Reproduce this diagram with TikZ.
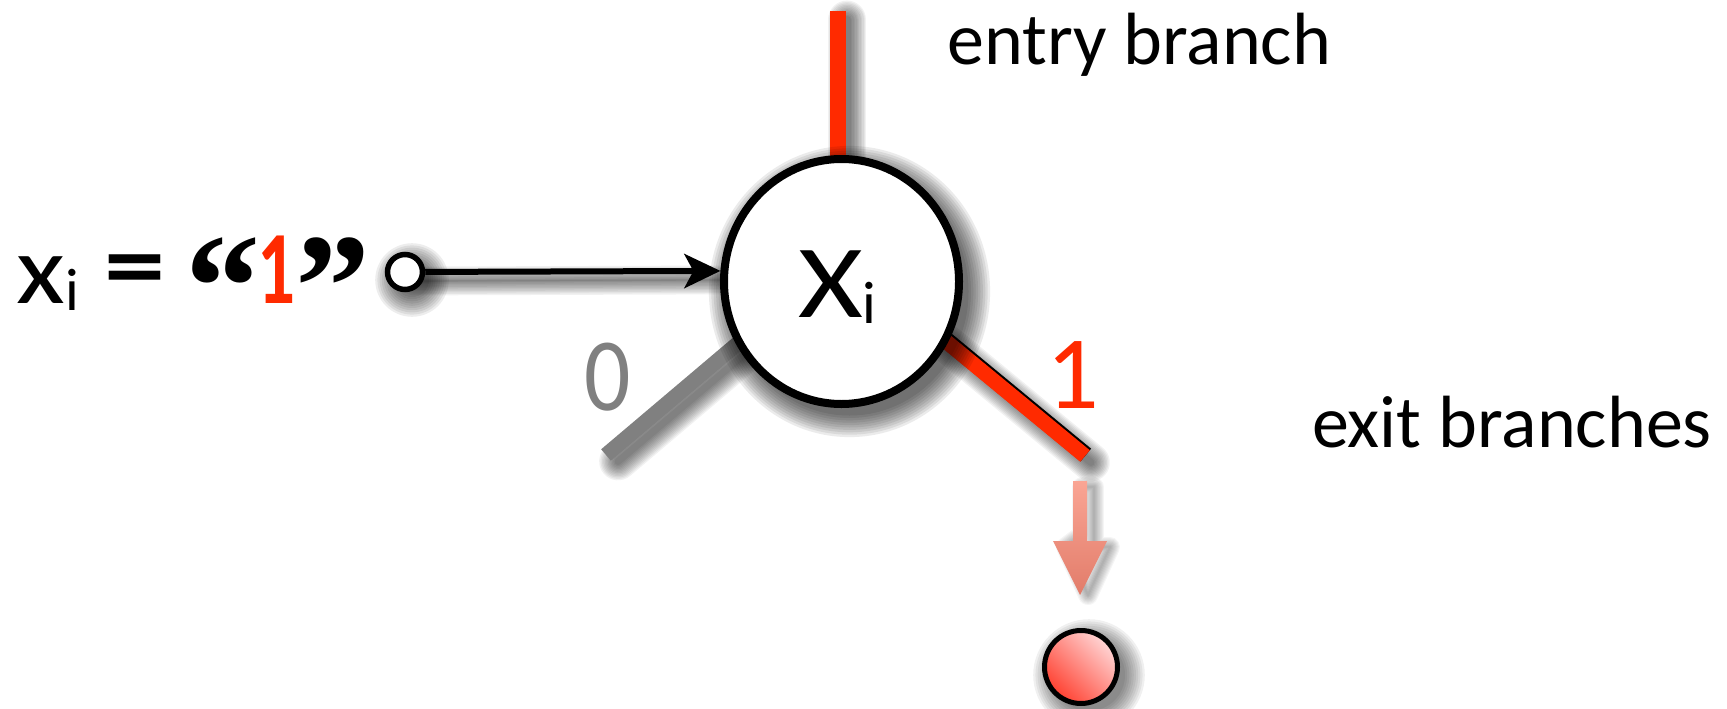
\documentclass[tikz,border=0pt]{standalone}
\usepackage{fontspec}
\setmainfont{Carlito}
\newfontfamily\quotefont{Liberation Serif}
\usetikzlibrary{arrows.meta,shapes.geometric,calc}
\definecolor{brred}{RGB}{255,42,0}
\definecolor{brgray}{RGB}{128,128,128}
\definecolor{salmonA}{RGB}{250,165,148}
\definecolor{salmonB}{RGB}{226,124,106}
\definecolor{ballA}{RGB}{255,214,214}
\definecolor{ballB}{RGB}{255,64,48}
\pgfdeclarelayer{lshadow}
\pgfdeclarelayer{lines}
\pgfdeclarelayer{cshadow}
\pgfsetlayers{lshadow,lines,cshadow,main}
\newcommand\fsz[1]{\fontsize{#1pt}{#1pt}\selectfont}
\newcommand\lineshadow[4]{%
  \foreach \k in {0,...,11}{%
    \pgfmathsetmacro\shw{#1-8+2.8*\k}%
    \draw[black, opacity=0.055, line cap=round, line width=\shw pt, #4] ($#2+(9,9)$) -- ($#3+(9,9)$);
  }}
\begin{document}
\begin{tikzpicture}[x=1pt,y=-1pt,
  lbl/.style={inner sep=0pt, anchor=base west},
  mainnode/.style={ellipse, draw, line width=8pt, fill=white, minimum width=235pt, minimum height=245pt, inner sep=0pt},
  srcnode/.style={circle, draw, line width=5.5pt, fill=white, minimum size=35pt, inner sep=0pt},
  ballnode/.style={circle, draw, line width=5pt, minimum size=73pt, inner sep=0pt, top color=ballA, bottom color=ballB, shading angle=-45},
  branch/.style={line cap=butt},
  qmark/.style={inner sep=0pt, anchor=north, font=\quotefont\bfseries\fsz{150}}
]
\useasboundingbox (0,0) rectangle (1727,709);

% nodes and coordinates
\node[mainnode] (X) at (841.5,281.5) {};
\coordinate (etop) at (838,11);
\coordinate (gend) at (606,455);
\coordinate (rend) at (1085,456);
\node[srcnode] (src) at (405,272) {};
\node[ballnode] (ball) at (1081,667) {};
\coordinate (pa) at (1080,481);
\coordinate (pb) at (1080,595);

% line shadows
\begin{pgfonlayer}{lshadow}
  \lineshadow{16}{(etop)}{(etop |- X.center)}{}
  \lineshadow{15}{(X.211)}{(gend)}{shorten <=-25pt, shorten >=4pt}
  \lineshadow{15}{(X.-30)}{(rend)}{shorten <=-25pt, shorten >=4pt}
  \lineshadow{6}{(src)}{(X.175)}{}
\end{pgfonlayer}

% branches
\begin{pgfonlayer}{lines}
  \draw[branch, brred, line width=16pt] (etop) -- (etop |- X.center);
  \draw[branch, brgray, line width=15pt, shorten <=-25pt] (X.211) -- (gend);
  \draw[branch, black, line width=16.5pt, shorten <=-25pt, transform canvas={shift={(0.85pt,1.0pt)}}] (X.-30) -- (rend);
  \draw[branch, brred, line width=15pt, shorten <=-25pt] (X.-30) -- (rend);
\end{pgfonlayer}

% node shadows
\begin{pgfonlayer}{cshadow}
  \foreach \k in {0,...,9}{
    \fill[black, opacity=0.08] ($(X.center)+(8,10)$) ellipse [x radius={119pt+2.4pt*\k}, y radius={124pt+2.4pt*\k}];
    \fill[black, opacity=0.07] ($(src.center)+(7,8)$) circle [radius={17pt+2.2pt*\k}];
    \fill[black, opacity=0.06] ($(ball.center)+(8,8)$) circle [radius={36pt+2.2pt*\k}];
    \draw[black, opacity=0.04, line join=round, line width={2.2pt*\k+0.1pt}]
      ($(pa)+(2,6)$) -- ($(pa)+(14,6)$) -- ($(pb)+(14,-48)$) -- ($(pb)+(30,-48)$) -- ($(pb)+(8,0)$) -- ($(pb)+(-14,-48)$) -- ($(pa)+(2,54)$) -- cycle;
  }
\end{pgfonlayer}

% connector from the input point
\draw[line width=6pt, -{Stealth[length=36pt,width=34pt,inset=9pt]}] (src) -- (X.175);

% exit arrow
\shade[top color=salmonA, bottom color=salmonB]
  ($(pa)+(-7,0)$) -- ($(pa)+(7,0)$) -- ($(pb)+(7,-54)$) -- ($(pb)+(27,-54)$) -- (pb) -- ($(pb)+(-27,-54)$) -- ($(pb)+(-7,-54)$) -- cycle;

% texts
\node[lbl, font=\fsz{74}] (tentry) at (947,65) {entry branch};
\node[lbl, font=\fsz{74}] (texit) at (1312,447) {exit branches};
\node[lbl, font=\fsz{98}] (fx) at (16,303) {\scalebox{1.15}[1]{x}\raisebox{-7pt}{\fsz{60}i}};
\node[inner sep=0pt, anchor=north, font=\fsz{98}\bfseries] (feq) at (135,255) {\scalebox{1.25}[1]{=}};
\node[qmark] (fq1) at (223,238) {“};
\node[inner sep=0pt, anchor=base, font=\fsz{104}\bfseries, text=brred] (fone) at (276,303) {\scalebox{0.72}[1]{1}};
\node[qmark] (fq2) at (333,238) {”};
\node[lbl, font=\fsz{104}] (tX) at (798,317) {\scalebox{1.2}[1]{X}\raisebox{-6pt}{\fsz{60}i}};
\node[anchor=base, inner sep=0pt, font=\fsz{104}, text=brgray] (tzero) at (608,410) {\scalebox{0.88}[1]{0}};
\node[anchor=base, inner sep=0pt, font=\fsz{104}, text=brred] (tone) at (1073,408) {1};
\end{tikzpicture}
\end{document}
